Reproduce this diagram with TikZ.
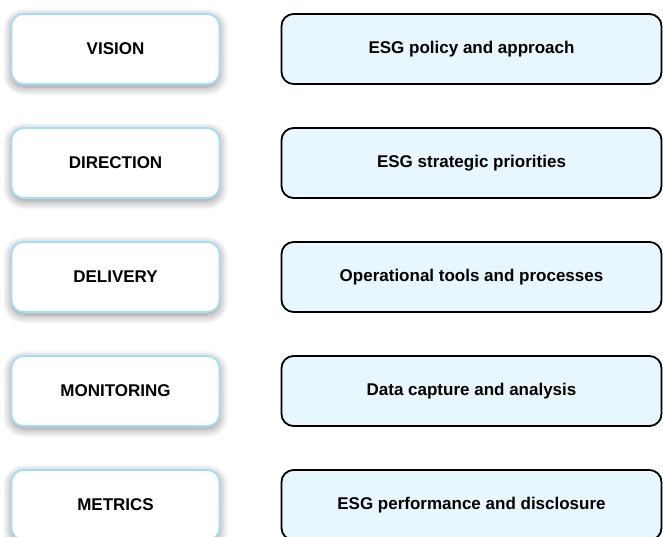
\documentclass[tikz,border=0pt]{standalone}
\usepackage{fontspec}
\setmainfont{Liberation Sans}
\usepackage{xcolor}
\usetikzlibrary{positioning, shadows.blur}
\definecolor{lvlblue}{HTML}{A6DCF5}
\definecolor{actfill}{HTML}{E8F6FE}

\begin{document}
\begin{tikzpicture}[x=1pt, y=-1pt,
		lvl/.style={
			rectangle,
			rounded corners=12pt,
			draw=lvlblue,
			line width=1.8pt,
			fill=white,
			minimum width=208pt,
			minimum height=70pt,
			font=\bfseries\fontsize{17}{19}\selectfont,
			blur shadow={shadow xshift=0pt, shadow yshift=-3pt, shadow blur radius=9pt, shadow blur steps=12, shadow blur extra rounding=4pt, shadow opacity=45}},
		act/.style={
			rectangle,
			rounded corners=12pt,
			draw=black,
			line width=1.8pt,
			fill=actfill,
			minimum width=380pt,
			minimum height=70pt,
			font=\bfseries\fontsize{17}{19}\selectfont}
		]
		\useasboundingbox (0,0) rectangle (663,536);
		% governance levels on the left
		\foreach \i [count=\step from 1] in {VISION,DIRECTION,DELIVERY,MONITORING,METRICS}
		\node[lvl] (l\step) at (115.5, {49+114*(\step-1)}) {\i};
		
		% matching activities on the right
		\foreach \i [count=\step from 1] in {ESG policy and approach,ESG strategic priorities,Operational tools and processes,Data capture and analysis,ESG performance and disclosure}
		\node[act] (a\step) at (471.5, {49+114*(\step-1)}) {\i};
	\end{tikzpicture}
\end{document}
